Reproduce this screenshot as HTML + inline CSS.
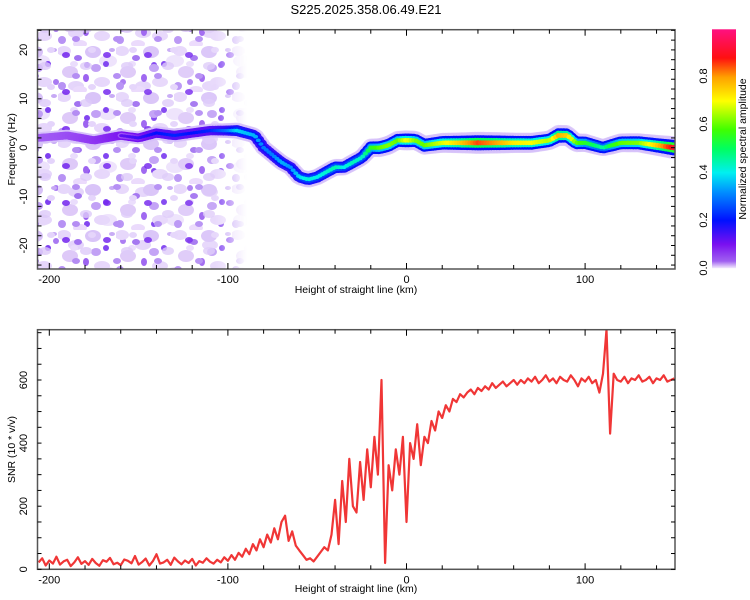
<!DOCTYPE html>
<html><head><meta charset="utf-8"><style>
body{margin:0;background:#fff;}
svg{display:block;font-family:"Liberation Sans",sans-serif;}
</style></head><body>
<svg id="c" width="750" height="600" viewBox="0 0 750 600">
<defs>
<pattern id="noiseA" width="58" height="46" patternUnits="userSpaceOnUse">
<ellipse cx="6" cy="5" rx="7" ry="5" fill="#e6d6fb"/><ellipse cx="20" cy="12" rx="4" ry="3" fill="#a070f0"/>
<ellipse cx="35" cy="6" rx="8" ry="6" fill="#d8c2f8"/><ellipse cx="48" cy="18" rx="3" ry="3" fill="#7d3ef0"/>
<ellipse cx="12" cy="26" rx="8" ry="6" fill="#ddc8f8"/><ellipse cx="28" cy="32" rx="3" ry="4" fill="#9a60f0"/>
<ellipse cx="44" cy="36" rx="8" ry="5" fill="#e6d6fb"/><ellipse cx="54" cy="4" rx="3" ry="2" fill="#c6a8f5"/>
<ellipse cx="4" cy="40" rx="4" ry="4" fill="#b690f4"/><ellipse cx="22" cy="44" rx="7" ry="4" fill="#ead9fc"/>
<ellipse cx="38" cy="22" rx="5" ry="4" fill="#c09ef5"/><ellipse cx="16" cy="18" rx="4" ry="3" fill="#eadcfc"/>
</pattern>
<pattern id="noiseB" width="41" height="37" patternUnits="userSpaceOnUse" x="17" y="9">
<ellipse cx="8" cy="9" rx="4" ry="3" fill="#7020ee" opacity="0.85"/><ellipse cx="28" cy="20" rx="6" ry="4" fill="#dcc8f9" opacity="0.8"/>
<ellipse cx="18" cy="30" rx="4" ry="3" fill="#b28af3"/><ellipse cx="34" cy="4" rx="4" ry="3" fill="#e4d4fb"/>
</pattern>
<pattern id="noiseC" width="67" height="53" patternUnits="userSpaceOnUse" x="31" y="21">
<ellipse cx="10" cy="40" rx="9" ry="6" fill="#ecdffc" opacity="0.9"/><ellipse cx="45" cy="12" rx="8" ry="5" fill="#e2d0fa" opacity="0.9"/>
<ellipse cx="56" cy="44" rx="3" ry="3" fill="#8040f0"/><ellipse cx="25" cy="8" rx="3" ry="3" fill="#a878f2"/>
</pattern>
<linearGradient id="fade" x1="0" x2="1" y1="0" y2="0">
<stop offset="0" stop-color="#fff" stop-opacity="1"/><stop offset="0.85" stop-color="#fff" stop-opacity="0.9"/><stop offset="1" stop-color="#fff" stop-opacity="0"/>
</linearGradient>
<mask id="noiseMask"><rect x="37" y="29" width="210" height="241" fill="url(#fade)"/></mask>
<linearGradient id="cbar" x1="0" x2="0" y1="1" y2="0">
<stop offset="0" stop-color="#f4ecfe"/><stop offset="0.03" stop-color="#a060f0"/><stop offset="0.1" stop-color="#7a10f0"/>
<stop offset="0.2" stop-color="#0010ff"/><stop offset="0.32" stop-color="#0090ff"/><stop offset="0.4" stop-color="#00f0f0"/>
<stop offset="0.5" stop-color="#00ff60"/><stop offset="0.58" stop-color="#40ff00"/><stop offset="0.7" stop-color="#ffff00"/>
<stop offset="0.8" stop-color="#ffa000"/><stop offset="0.88" stop-color="#ff1010"/><stop offset="1" stop-color="#ff1080"/>
</linearGradient>
<clipPath id="clipTop"><rect x="37.5" y="29.7" width="637.5" height="239.3"/></clipPath>
<clipPath id="clipBot"><rect x="37.5" y="329.7" width="637.5" height="239.6"/></clipPath>
</defs>
<text x="366" y="14" text-anchor="middle" font-size="13">S225.2025.358.06.49.E21</text>
<g id="top"></g>
<g id="bot"></g>
<g id="cb"></g>
</svg>
<script>
// ---- data ----
const ridgeH = [-206,-190,-175,-160,-150,-140,-130,-120,-110,-100,-95,-90,-85,-80,-75,-70,-65,-60,-55,-50,-45,-40,-35,-30,-25,-20,-15,-10,-5,0,5,10,20,30,40,50,60,70,80,85,90,95,100,105,110,115,120,130,140,150];
const ridgeF = [2,2.5,1.5,2.5,2,3,2.5,3,3.5,3.5,3.5,3,2.5,0,-1.5,-3,-4,-6,-6.5,-6,-5,-4,-4,-3,-2,0,0,0.5,1.5,1.5,1.5,0.5,1,1,1,1,1,1,1.5,2.5,2.5,1,1,0.5,0,0.5,1,1,0.5,0];
const ridgeA = [0.03,0.05,0.08,0.12,0.15,0.2,0.22,0.2,0.22,0.3,0.38,0.36,0.35,0.3,0.3,0.35,0.32,0.38,0.42,0.4,0.42,0.45,0.4,0.44,0.42,0.55,0.6,0.62,0.6,0.7,0.62,0.6,0.68,0.75,0.85,0.8,0.72,0.7,0.65,0.78,0.75,0.6,0.55,0.5,0.45,0.55,0.6,0.62,0.75,0.92];
const snrStart = -206, snrStep = 2;
const snrValues = [22,35,12,28,18,40,15,25,30,10,22,38,17,26,14,33,20,11,29,24,36,16,21,13,31,27,19,42,15,23,34,12,26,48,18,22,30,14,37,25,16,28,20,33,12,26,21,35,
24,18,30,22,38,27,45,30,52,40,65,48,80,60,95,70,
110,85,130,95,150,170,90,120,75,60,45,30,35,25,
40,55,70,60,110,220,80,280,150,350,200,180,340,220,380,
260,420,300,600,20,330,250,380,300,420,
150,400,350,460,330,420,400,470,440,500,480,
520,500,540,530,555,545,560,570,555,575,565,580,570,590,575,585,595,580,590,600,
585,600,590,605,595,610,590,600,615,595,605,590,610,600,595,615,600,580,605,595,
610,590,600,560,620,760,430,620,600,595,610,590,605,600,615,595,600,610,590,605,600,615,595,600,605];
const xTickLabels = [-200,-100,0,100];
const topYTickLabels = [-20,-10,0,10,20];
const botYTickLabels = [0,200,400,600];
const cbTickLabels = [0.0,0.2,0.4,0.6,0.8];

// ---- scales ----
const NS='http://www.w3.org/2000/svg';
const X0=37.5, X1=675;
const xs = h => 406.5 + h*1.786;
const yTop = f => 147.7 - f*4.89;
const yBot = v => 569.3 - v*0.3155;
const cbY = a => 268 - a*240;
function el(tag, attrs, parent){const e=document.createElementNS(NS,tag);for(const k in attrs)e.setAttribute(k,attrs[k]);parent.appendChild(e);return e;}
function cmap(a){
  const st=[[0,[244,236,254]],[0.03,[214,192,250]],[0.1,[122,16,240]],[0.2,[0,16,255]],[0.32,[0,144,255]],[0.4,[0,240,240]],[0.5,[0,255,96]],[0.58,[64,255,0]],[0.7,[255,255,0]],[0.8,[255,160,0]],[0.88,[255,16,16]],[1,[255,16,128]]];
  for(let i=1;i<st.length;i++){if(a<=st[i][0]){const t=(a-st[i-1][0])/(st[i][0]-st[i-1][0]);const c=st[i-1][1].map((v,j)=>Math.round(v+(st[i][1][j]-v)*t));return `rgb(${c})`;}}
  return 'rgb(255,16,128)';
}
function interp(arrX, arrY, x){for(let i=1;i<arrX.length;i++){if(x<=arrX[i]){const t=(x-arrX[i-1])/(arrX[i]-arrX[i-1]);return arrY[i-1]+(arrY[i]-arrY[i-1])*t;}}return arrY[arrY.length-1];}

function axes(g, yTop_, yBottom, yTicksMinor, yMap, yLabels, yTitle, xTitleY){
  el('rect',{x:X0,y:yTop_,width:X1-X0,height:yBottom-yTop_,fill:'none',stroke:'#555','stroke-width':1.5},g);
  for(let h=-200;h<=140;h+=20){
    const x=xs(h), len = (h%100===0)?6:4;
    el('line',{x1:x,x2:x,y1:yBottom,y2:yBottom-len,stroke:'#000'},g);
    el('line',{x1:x,x2:x,y1:yTop_,y2:yTop_+len,stroke:'#000'},g);
  }
  xTickLabels.forEach(v=>{const t=el('text',{x:xs(v),y:yBottom+14,'text-anchor':'middle','font-size':11},g);t.textContent=v;
    
    });
  yTicksMinor.forEach(v=>{const y=yMap(v);
    el('line',{x1:X0,x2:X0+4,y1:y,y2:y,stroke:'#000'},g);
    el('line',{x1:X1,x2:X1-4,y1:y,y2:y,stroke:'#000'},g);});
  yLabels.forEach(v=>{const y=yMap(v);const t=el('text',{x:27,y:y,'text-anchor':'middle','font-size':11,transform:`rotate(-90 27 ${y})`},g);t.textContent=v;
    
    });
  const yc=(yTop_+yBottom)/2;
  const yt=el('text',{x:15,y:yc,'text-anchor':'middle','font-size':10.5,transform:`rotate(-90 15 ${yc})`},g);yt.textContent=yTitle;
  
  
  const xt=el('text',{x:356,y:xTitleY,'text-anchor':'middle','font-size':10.5},g);xt.textContent='Height of straight line (km)';
  
  
}

// ---- top spectrogram ----
const topG=document.getElementById('top');
const tc=el('g',{'clip-path':'url(#clipTop)'},topG);
const nz=el('g',{mask:'url(#noiseMask)'},tc);
el('rect',{x:37,y:29,width:210,height:241,fill:'url(#noiseC)'},nz);
el('rect',{x:37,y:29,width:210,height:241,fill:'url(#noiseA)'},nz);
el('rect',{x:37,y:29,width:210,height:241,fill:'url(#noiseB)'},nz);
// layers: [ry, colour function, opacity]
const layers=[
  [11, a=>cmap(0.03), 0.7],
  [7.5, a=>cmap(Math.min(0.06+a*0.3,0.2)), 1],
  [5, a=>cmap(a*0.6), 1],
  [2.6, a=>cmap(a), 1]
];
layers.forEach(([ry,fn,op])=>{
  for(let h=-206;h<=150;h+=1.5){
    const a=interp(ridgeH,ridgeA,h), f=interp(ridgeH,ridgeF,h);
    if(a<0.12 && ry<6) continue;
    const r=el('ellipse',{cx:xs(h),cy:yTop(f),rx:Math.max(ry*0.8,2.5),ry:ry*(0.5+a*0.6),fill:fn(a),opacity:op},tc);
    
    
  }
});
const ft=[];for(let f=-24;f<=24;f+=2)ft.push(f);
axes(topG,29.7,269,ft,yTop,topYTickLabels,'Frequency (Hz)',293);

// ---- bottom SNR ----
const botG=document.getElementById('bot');
const bc=el('g',{'clip-path':'url(#clipBot)'},botG);
let d='';
snrValues.forEach((v,i)=>{const h=snrStart+i*snrStep;d+=(i?'L':'M')+xs(h).toFixed(1)+','+yBot(v).toFixed(1);});
const line=el('path',{d:d,fill:'none',stroke:'#f03636','stroke-width':2.2,'stroke-linejoin':'round'},bc);


const bt=[];for(let v=0;v<=750;v+=50)bt.push(v);
axes(botG,329.7,569.3,bt,yBot,botYTickLabels,'SNR (10 * v/v)',592);

// ---- colorbar ----
const cbG=document.getElementById('cb');
const bar=el('rect',{x:712,y:29.3,width:24,height:239,fill:'url(#cbar)'},cbG);


cbTickLabels.forEach(v=>{const y=cbY(v);const t=el('text',{x:707,y:y,'text-anchor':'middle','font-size':11,transform:`rotate(-90 707 ${y})`},cbG);t.textContent=v.toFixed(1);
  
  });
const ct=el('text',{x:746,y:149,'text-anchor':'middle','font-size':10.5,transform:'rotate(-90 746 149)'},cbG);ct.textContent='Normalized spectral amplitude';


</script>
</body></html>
